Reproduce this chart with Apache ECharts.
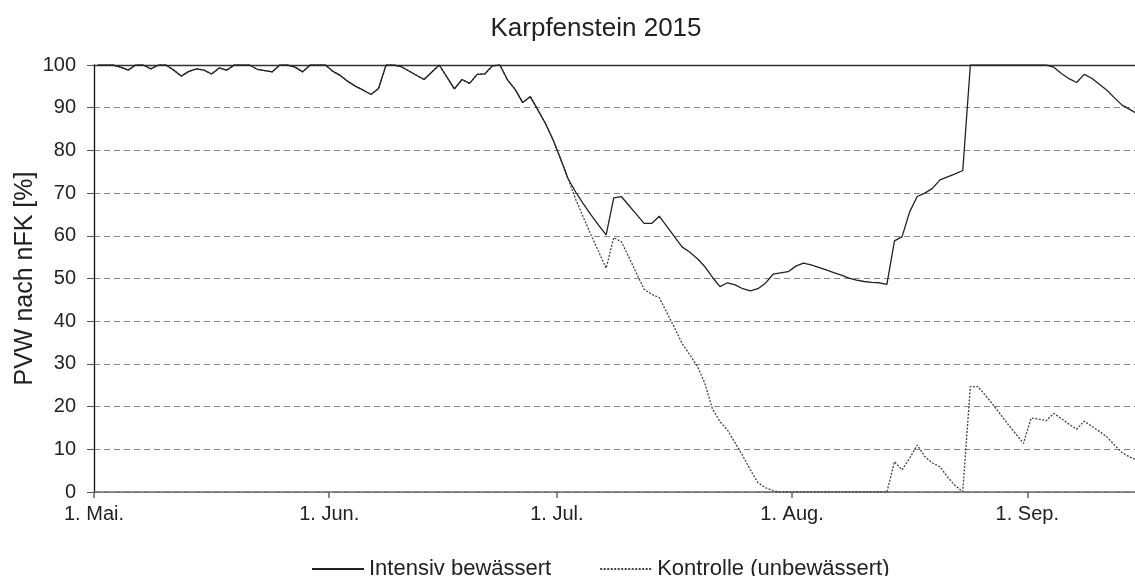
<!DOCTYPE html>
<html>
<head>
    <meta charset="utf-8">
    <title>Karpfenstein 2015</title>
    <script src="https://cdn.jsdelivr.net/npm/echarts@6/dist/echarts.min.js"></script>
    <style>
        html, body { margin: 0; padding: 0; background: #fff; }
        #chart { width: 1135px; height: 576px; }
    </style>
</head>
<body>
<div id="chart"></div>
<script>
    // Tageswerte ab 1. Mai 2015 (Index 0 = 1. Mai)
    var seriesNames = ['Intensiv bewässert', 'Kontrolle (unbewässert)'];
    var monthStarts = [0, 31, 61, 92, 123];
    var monthLabels = ['1. Mai.', '1. Jun.', '1. Jul.', '1. Aug.', '1. Sep.'];
    var yTicks = [0, 10, 20, 30, 40, 50, 60, 70, 80, 90, 100];

    var intensiv = [
        100, 100, 100, 99.5, 98.8, 100, 100, 99.1, 100, 100,
        98.8, 97.4, 98.5, 99.1, 98.8, 97.9, 99.3, 98.8, 100, 100,
        100, 99, 98.7, 98.4, 100, 100, 99.5, 98.4, 100, 100,
        100, 98.5, 97.5, 96.1, 95, 94.1, 93.1, 94.5, 100, 100,
        99.6, 98.6, 97.6, 96.6, 98.3, 100, 97.2, 94.4, 96.6, 95.7,
        97.8, 97.9, 99.8, 100, 96.5, 94.3, 91.2, 92.6, 89.5, 86.3,
        82.5, 78, 73.3, 70.2, 67.5, 64.9, 62.5, 60.2, 68.9, 69.2,
        67.1, 65, 62.9, 62.9, 64.6, 62.2, 59.8, 57.4, 56.2, 54.7,
        52.8, 50.3, 48.1, 49, 48.5, 47.6, 47.1, 47.6, 48.9, 51,
        51.3, 51.6, 52.9, 53.6, 53.2, 52.6, 52, 51.4, 50.8, 50.1,
        49.6, 49.3, 49.1, 49, 48.6, 58.8, 59.8, 65.6, 69.2, 70,
        71.1, 73.1, 73.8, 74.5, 75.3, 100, 100, 100, 100, 100,
        100, 100, 100, 100, 100, 100, 99.5, 98, 96.8, 95.9,
        97.8, 96.9, 95.5, 94.1, 92.3, 90.6, 89.6, 88.6
    ];

    // Kontrolle ist bis 2. Juli deckungsgleich mit der intensiv bewässerten Variante
    var sharedDays = 63;
    var kontrolleRest = [
        68.5, 64.3, 60.2, 56.3, 52.4, 59.6, 58.6, 55, 51.2, 47.5,
        46.3, 45.5, 42, 38.5, 34.8, 32.2, 29.5, 25.5, 19.5, 16.5,
        14.5, 11.5, 8.5, 5.2, 2.2, 1, 0.3, 0, 0, 0,
        0, 0, 0, 0, 0, 0, 0, 0, 0, 0,
        0, 0, 7.1, 5.2, 7.9, 11, 8.3, 6.8, 5.9, 3.5,
        1.5, 0.1, 24.7, 24.7, 22.6, 20.4, 18.1, 15.8, 13.6, 11.4,
        17.3, 17.1, 16.7, 18.4, 17.2, 15.9, 14.7, 16.6, 15.4, 14.2,
        12.9, 11, 9.2, 8.2, 7.5
    ];
    var kontrolle = intensiv.slice(0, sharedDays).concat(kontrolleRest);

    // Werte liegen jeweils in der Tagesmitte
    function toPoints(arr) {
        return arr.map(function (v, i) { return [i + 0.5, v]; });
    }

    var font = 'Liberation Sans, Arial, sans-serif';
    var myChart = echarts.init(document.getElementById('chart'));
    var option = {
        animation: false,
        title: {
            text: 'Karpfenstein 2015',
            left: 591,
            top: 11,
            textAlign: 'center',
            textStyle: { fontFamily: font, fontSize: 26, fontWeight: 'normal', color: '#222' }
        },
        grid: { left: 94, right: 0, top: 65, bottom: 84 },
        legend: {
            left: 306,
            top: 553,
            itemWidth: 52,
            itemHeight: 12,
            itemGap: 48,
            itemStyle: { opacity: 0 },
            textStyle: { fontFamily: font, fontSize: 22, color: '#222' },
            data: seriesNames
        },
        xAxis: [{
            type: 'value',
            min: 0,
            max: 137.2,
            axisLine: { show: true, lineStyle: { color: '#666', width: 1.5 } },
            axisTick: { show: true, customValues: monthStarts, length: 6, lineStyle: { color: '#666', width: 1.5 } },
            axisLabel: {
                customValues: monthStarts,
                margin: 12,
                fontFamily: font, fontSize: 20, color: '#222',
                formatter: function (val) {
                    var i = monthStarts.indexOf(Math.round(val));
                    return i >= 0 ? monthLabels[i] : '';
                }
            },
            splitLine: { show: false }
        }, {
            // obere Begrenzungslinie bei 100
            type: 'value',
            position: 'top',
            min: 0,
            max: 137.2,
            axisLine: { show: true, lineStyle: { color: '#333', width: 1.3 } },
            axisTick: { show: false },
            axisLabel: { show: false },
            splitLine: { show: false }
        }],
        yAxis: {
            type: 'value',
            min: 0,
            max: 100,
            interval: 10,
            name: 'PVW nach nFK [%]',
            nameLocation: 'middle',
            nameGap: 56,
            nameMoveOverlap: false,
            nameTextStyle: { fontFamily: font, fontSize: 25, color: '#222' },
            axisLine: { show: true, lineStyle: { color: '#111', width: 1.3 } },
            axisTick: { show: true, length: 7, lineStyle: { color: '#555' } },
            axisLabel: {
                margin: 18,
                fontFamily: font, fontSize: 20, color: '#222',
                customValues: yTicks
            },
            splitLine: { show: true, lineStyle: { color: '#888', type: [6, 4], width: 1 } }
        },
        series: [{
            name: seriesNames[1],
            type: 'line',
            data: toPoints(kontrolle),
            showSymbol: false,
            symbol: 'none',
            z: 2,
            lineStyle: { color: '#444', width: 1.3, type: [2, 1.5] },
            itemStyle: { color: '#444' }
        }, {
            name: seriesNames[0],
            type: 'line',
            data: toPoints(intensiv),
            showSymbol: false,
            symbol: 'none',
            z: 3,
            lineStyle: { color: '#222', width: 1.3 },
            itemStyle: { color: '#222' }
        }]
    };
    myChart.setOption(option);
</script>
</body>
</html>
